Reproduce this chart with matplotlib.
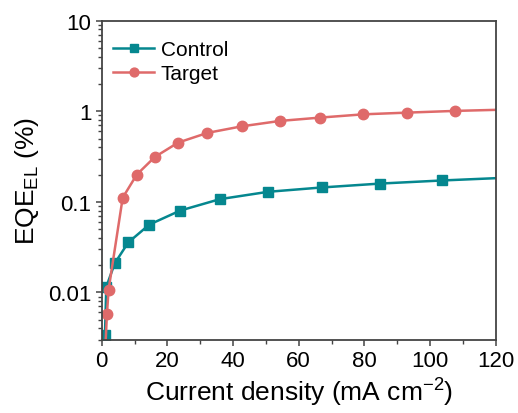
import matplotlib
matplotlib.use("Agg")
import matplotlib.pyplot as plt
from matplotlib.ticker import MultipleLocator, LogLocator, FixedLocator, FixedFormatter, NullFormatter

plt.rcParams['font.family'] = ['Liberation Sans', 'DejaVu Sans']
plt.rcParams['mathtext.fontset'] = 'custom'
plt.rcParams['mathtext.rm'] = 'Liberation Sans'
plt.rcParams['mathtext.it'] = 'Liberation Sans:italic'
plt.rcParams['mathtext.bf'] = 'Liberation Sans:bold'

control_x = [0.5, 1.0, 1.4, 4.0, 8.1, 14.5, 23.9, 36.0, 50.7, 67.0, 84.8, 103.6, 124]
control_y = [0.002, 0.0034, 0.0115, 0.021, 0.0356, 0.056, 0.080, 0.107, 0.129, 0.144, 0.159, 0.172, 0.185]
target_x = [1.0, 1.6, 2.1, 6.4, 10.7, 16.2, 23.3, 32.2, 42.7, 54.3, 66.5, 79.7, 93.1, 107.6, 124]
target_y = [0.002, 0.00575, 0.0107, 0.111, 0.20, 0.313, 0.451, 0.577, 0.682, 0.782, 0.851, 0.925, 0.966, 1.009, 1.045]

yticks = [0.01, 0.1, 1, 10]
ytick_labels = ['0.01', '0.1', '1', '10']
xticks = [0, 20, 40, 60, 80, 100, 120]

teal = '#05878F'
red = '#DF6A6A'

fig = plt.figure(figsize=(5.18, 4.14), dpi=100)
ax = fig.add_axes([0.1963, 0.177, 0.7607, 0.7706])

ax.plot(control_x, control_y, '-s', color=teal, lw=1.8, ms=7, label='Control')
ax.plot(target_x, target_y, '-o', color=red, lw=1.8, ms=7.5, label='Target')

ax.set_yscale('log')
ax.set_xlim(0, 120)
ax.set_ylim(0.003, 10)

ax.yaxis.set_major_locator(FixedLocator(yticks))
ax.yaxis.set_major_formatter(FixedFormatter(ytick_labels))
ax.yaxis.set_minor_locator(LogLocator(base=10, subs=range(2, 10)))
ax.yaxis.set_minor_formatter(NullFormatter())
ax.xaxis.set_major_locator(FixedLocator(xticks))
ax.xaxis.set_minor_locator(MultipleLocator(10))

for s in ax.spines.values():
    s.set_color('#444444')
    s.set_linewidth(1.3)

ax.tick_params(which='both', direction='out', top=False, right=False, color='#444444', labelsize=16)
ax.tick_params(which='major', length=4.5, width=1.1, pad=3)
ax.tick_params(which='minor', length=2.8, width=1.0)

ax.set_xlabel('Current density (mA cm$^{\\mathregular{-2}}$)', fontsize=19, labelpad=3)
ax.set_ylabel('EQE$_{\\mathregular{EL}}$ (%)', fontsize=19, labelpad=5)

leg = ax.legend(loc='upper left', bbox_to_anchor=(0.007, 0.966), frameon=False, fontsize=15,
                handlelength=2.0, handletextpad=0.3, labelspacing=0.25, markerscale=0.85,
                borderaxespad=0)

fig.savefig('out.png', dpi=100)
